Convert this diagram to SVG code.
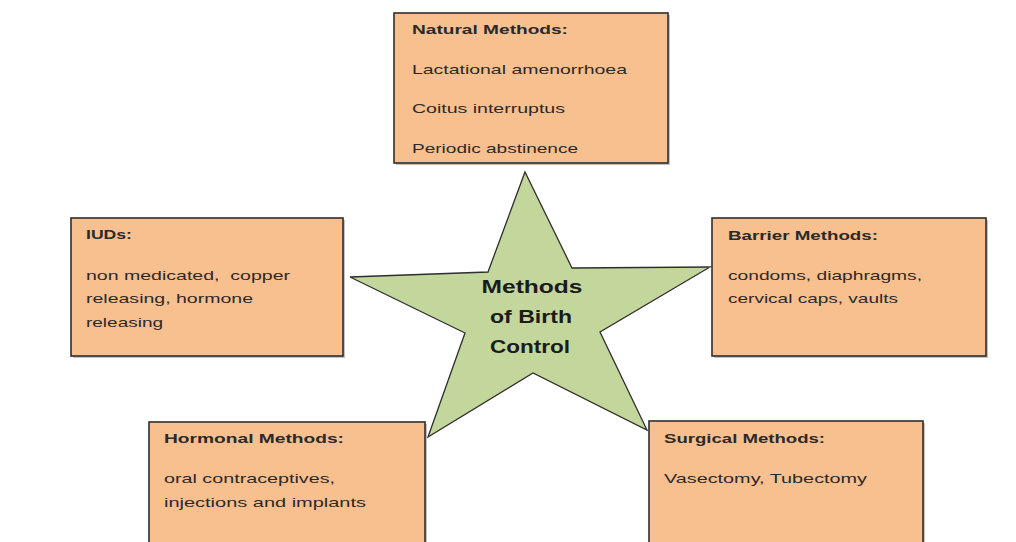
<svg xmlns="http://www.w3.org/2000/svg" width="1016" height="542" viewBox="0 0 1016 542">
<style>
.box{fill:#F8BF8F;stroke:#2e2e2e;stroke-width:1.6}
.sh{fill:#9a9a9a;opacity:0.6}
.t{font-family:"Liberation Sans",Arial,sans-serif;font-size:13.5px;fill:#2a2a2a}
.b{font-weight:bold}
.st{font-family:"Liberation Sans",Arial,sans-serif;font-size:18px;font-weight:bold;fill:#1b1b1b}
</style>
<rect width="1016" height="542" fill="#ffffff"/>
<g id="natural">
<rect class="sh" x="396" y="15" width="274" height="150"/>
<rect class="box" x="394" y="13" width="274" height="150"/>
<text class="t b" x="412" y="34" textLength="156" lengthAdjust="spacingAndGlyphs">Natural Methods:</text>
<text class="t" x="412" y="74" textLength="215" lengthAdjust="spacingAndGlyphs">Lactational amenorrhoea</text>
<text class="t" x="412" y="113" textLength="153" lengthAdjust="spacingAndGlyphs">Coitus interruptus</text>
<text class="t" x="412" y="153" textLength="166" lengthAdjust="spacingAndGlyphs">Periodic abstinence</text>
</g>
<g id="iuds">
<rect class="sh" x="73" y="220" width="272" height="138"/>
<rect class="box" x="71" y="218" width="272" height="138"/>
<text class="t b" x="86" y="239" textLength="46" lengthAdjust="spacingAndGlyphs">IUDs:</text>
<text class="t" x="86" y="280" textLength="204" lengthAdjust="spacingAndGlyphs" xml:space="preserve">non medicated,  copper</text>
<text class="t" x="86" y="303" textLength="167" lengthAdjust="spacingAndGlyphs">releasing, hormone</text>
<text class="t" x="86" y="327" textLength="77" lengthAdjust="spacingAndGlyphs">releasing</text>
</g>
<g id="barrier">
<rect class="sh" x="714" y="220" width="274" height="138"/>
<rect class="box" x="712" y="218" width="274" height="138"/>
<text class="t b" x="728" y="240" textLength="150" lengthAdjust="spacingAndGlyphs">Barrier Methods:</text>
<text class="t" x="728" y="280" textLength="194" lengthAdjust="spacingAndGlyphs">condoms, diaphragms,</text>
<text class="t" x="728" y="303" textLength="170" lengthAdjust="spacingAndGlyphs">cervical caps, vaults</text>
</g>
<g id="hormonal">
<rect class="sh" x="151" y="424" width="276" height="130"/>
<rect class="box" x="149" y="422" width="276" height="130"/>
<text class="t b" x="164" y="443" textLength="180" lengthAdjust="spacingAndGlyphs">Hormonal Methods:</text>
<text class="t" x="164" y="483" textLength="171" lengthAdjust="spacingAndGlyphs">oral contraceptives,</text>
<text class="t" x="164" y="507" textLength="202" lengthAdjust="spacingAndGlyphs">injections and implants</text>
</g>
<g id="surgical">
<rect class="sh" x="651" y="423" width="274" height="130"/>
<rect class="box" x="649" y="421" width="274" height="130"/>
<text class="t b" x="664" y="443" textLength="161" lengthAdjust="spacingAndGlyphs">Surgical Methods:</text>
<text class="t" x="664" y="483" textLength="203" lengthAdjust="spacingAndGlyphs">Vasectomy, Tubectomy</text>
</g>
<g id="star">
<polygon points="525,172 572,268 710,267 600,332 647,430 533,373 428,437 465,333 350,277 488,272" fill="#C3D69B" stroke="#2e2e2e" stroke-width="1.3" stroke-linejoin="miter"/>
<text class="st" x="532" y="293" text-anchor="middle" textLength="101" lengthAdjust="spacingAndGlyphs">Methods</text>
<text class="st" x="531" y="323" text-anchor="middle" textLength="82" lengthAdjust="spacingAndGlyphs">of Birth</text>
<text class="st" x="530" y="353" text-anchor="middle" textLength="80" lengthAdjust="spacingAndGlyphs">Control</text>
</g>
<g id="connectors"></g>
</svg>
